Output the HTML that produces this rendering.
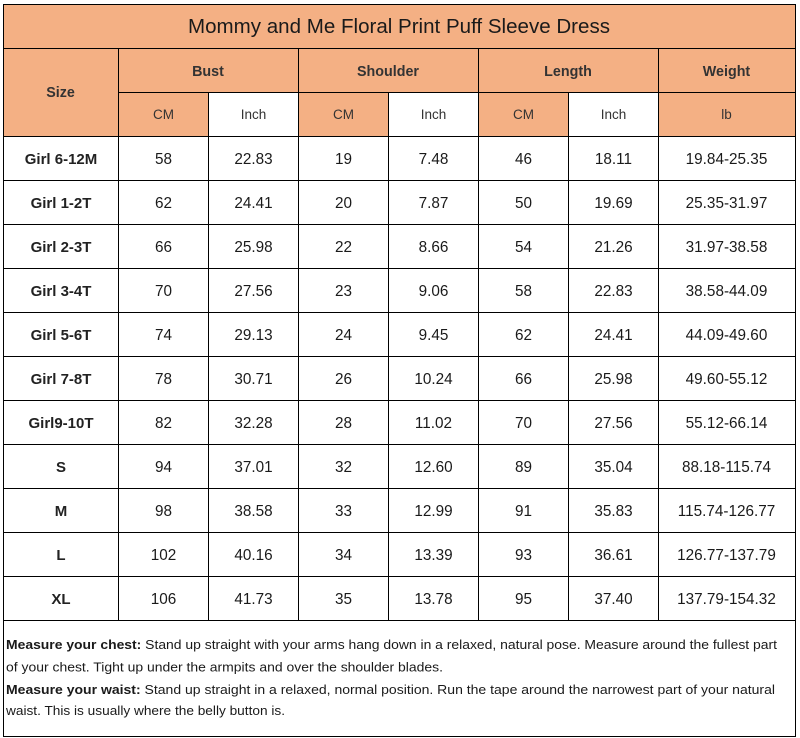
<!DOCTYPE html>
<html><head><meta charset="utf-8"><style>
html,body{margin:0;padding:0;background:#fff;}
svg{display:block;}
text{font-family:"Liberation Sans",sans-serif;}
</style></head><body>
<svg width="800" height="738" viewBox="0 0 800 738" xmlns="http://www.w3.org/2000/svg">
<rect x="0" y="0" width="800" height="738" fill="#fff"/>
<g fill="#F4B084">
<rect x="3" y="4" width="792" height="132"/>
</g>
<g fill="#fff">
<rect x="208" y="92" width="90" height="44"/>
<rect x="388" y="92" width="90" height="44"/>
<rect x="568" y="92" width="90" height="44"/>
</g>
<g stroke="#000" stroke-width="1" shape-rendering="crispEdges">
<line x1="3" y1="4.5" x2="796" y2="4.5"/>
<line x1="3" y1="48.5" x2="796" y2="48.5"/>
<line x1="118" y1="92.5" x2="796" y2="92.5"/>
<line x1="3" y1="136.5" x2="796" y2="136.5"/>
<line x1="3" y1="180.5" x2="796" y2="180.5"/>
<line x1="3" y1="224.5" x2="796" y2="224.5"/>
<line x1="3" y1="268.5" x2="796" y2="268.5"/>
<line x1="3" y1="312.5" x2="796" y2="312.5"/>
<line x1="3" y1="356.5" x2="796" y2="356.5"/>
<line x1="3" y1="400.5" x2="796" y2="400.5"/>
<line x1="3" y1="444.5" x2="796" y2="444.5"/>
<line x1="3" y1="488.5" x2="796" y2="488.5"/>
<line x1="3" y1="532.5" x2="796" y2="532.5"/>
<line x1="3" y1="576.5" x2="796" y2="576.5"/>
<line x1="3" y1="620.5" x2="796" y2="620.5"/>
<line x1="3" y1="736.5" x2="796" y2="736.5"/>
<line x1="3.5" y1="4" x2="3.5" y2="737"/>
<line x1="795.5" y1="4" x2="795.5" y2="737"/>
<line x1="118.5" y1="48" x2="118.5" y2="620"/>
<line x1="298.5" y1="48" x2="298.5" y2="620"/>
<line x1="478.5" y1="48" x2="478.5" y2="620"/>
<line x1="658.5" y1="48" x2="658.5" y2="620"/>
<line x1="208.5" y1="92" x2="208.5" y2="620"/>
<line x1="388.5" y1="92" x2="388.5" y2="620"/>
<line x1="568.5" y1="92" x2="568.5" y2="620"/>
</g>
<text x="399" y="33" font-size="20" fill="#1a1a1a" text-anchor="middle" textLength="422" lengthAdjust="spacingAndGlyphs">Mommy and Me Floral Print Puff Sleeve Dress</text>
<g font-size="14.3" font-weight="bold" fill="#333" text-anchor="middle">
<text x="60.5" y="97">Size</text>
<text x="208" y="76">Bust</text>
<text x="388" y="76">Shoulder</text>
<text x="568" y="76">Length</text>
<text x="726.5" y="76">Weight</text>
</g>
<g font-size="13.5" fill="#333" text-anchor="middle">
<text x="163.5" y="119">CM</text>
<text x="253.5" y="119">Inch</text>
<text x="343.5" y="119">CM</text>
<text x="433.5" y="119">Inch</text>
<text x="523.5" y="119">CM</text>
<text x="613.5" y="119">Inch</text>
<text x="726.5" y="119">lb</text>
</g>
<g font-size="15" fill="#1a1a1a" text-anchor="middle">
<g font-weight="bold" fill="#222">
<text x="61" y="164">Girl 6-12M</text>
<text x="61" y="208">Girl 1-2T</text>
<text x="61" y="252">Girl 2-3T</text>
<text x="61" y="296">Girl 3-4T</text>
<text x="61" y="340">Girl 5-6T</text>
<text x="61" y="384">Girl 7-8T</text>
<text x="61" y="428">Girl9-10T</text>
<text x="61" y="472">S</text>
<text x="61" y="516">M</text>
<text x="61" y="560">L</text>
<text x="61" y="604">XL</text>
</g>
<g font-size="15.3">
<text x="163.5" y="164">58</text><text x="253.5" y="164">22.83</text><text x="343.5" y="164">19</text><text x="433.5" y="164">7.48</text><text x="523.5" y="164">46</text><text x="613.5" y="164">18.11</text><text x="726.5" y="164">19.84-25.35</text>
<text x="163.5" y="208">62</text><text x="253.5" y="208">24.41</text><text x="343.5" y="208">20</text><text x="433.5" y="208">7.87</text><text x="523.5" y="208">50</text><text x="613.5" y="208">19.69</text><text x="726.5" y="208">25.35-31.97</text>
<text x="163.5" y="252">66</text><text x="253.5" y="252">25.98</text><text x="343.5" y="252">22</text><text x="433.5" y="252">8.66</text><text x="523.5" y="252">54</text><text x="613.5" y="252">21.26</text><text x="726.5" y="252">31.97-38.58</text>
<text x="163.5" y="296">70</text><text x="253.5" y="296">27.56</text><text x="343.5" y="296">23</text><text x="433.5" y="296">9.06</text><text x="523.5" y="296">58</text><text x="613.5" y="296">22.83</text><text x="726.5" y="296">38.58-44.09</text>
<text x="163.5" y="340">74</text><text x="253.5" y="340">29.13</text><text x="343.5" y="340">24</text><text x="433.5" y="340">9.45</text><text x="523.5" y="340">62</text><text x="613.5" y="340">24.41</text><text x="726.5" y="340">44.09-49.60</text>
<text x="163.5" y="384">78</text><text x="253.5" y="384">30.71</text><text x="343.5" y="384">26</text><text x="433.5" y="384">10.24</text><text x="523.5" y="384">66</text><text x="613.5" y="384">25.98</text><text x="726.5" y="384">49.60-55.12</text>
<text x="163.5" y="428">82</text><text x="253.5" y="428">32.28</text><text x="343.5" y="428">28</text><text x="433.5" y="428">11.02</text><text x="523.5" y="428">70</text><text x="613.5" y="428">27.56</text><text x="726.5" y="428">55.12-66.14</text>
<text x="163.5" y="472">94</text><text x="253.5" y="472">37.01</text><text x="343.5" y="472">32</text><text x="433.5" y="472">12.60</text><text x="523.5" y="472">89</text><text x="613.5" y="472">35.04</text><text x="726.5" y="472">88.18-115.74</text>
<text x="163.5" y="516">98</text><text x="253.5" y="516">38.58</text><text x="343.5" y="516">33</text><text x="433.5" y="516">12.99</text><text x="523.5" y="516">91</text><text x="613.5" y="516">35.83</text><text x="726.5" y="516">115.74-126.77</text>
<text x="163.5" y="560">102</text><text x="253.5" y="560">40.16</text><text x="343.5" y="560">34</text><text x="433.5" y="560">13.39</text><text x="523.5" y="560">93</text><text x="613.5" y="560">36.61</text><text x="726.5" y="560">126.77-137.79</text>
<text x="163.5" y="604">106</text><text x="253.5" y="604">41.73</text><text x="343.5" y="604">35</text><text x="433.5" y="604">13.78</text><text x="523.5" y="604">95</text><text x="613.5" y="604">37.40</text><text x="726.5" y="604">137.79-154.32</text>
</g>
</g>
<g font-size="13.2" fill="#1a1a1a">
<text x="6" y="649" textLength="771" lengthAdjust="spacingAndGlyphs"><tspan font-weight="bold">Measure your chest:</tspan> Stand up straight with your arms hang down in a relaxed, natural pose. Measure around the fullest part</text>
<text x="6" y="671.5" textLength="437" lengthAdjust="spacingAndGlyphs">of your chest. Tight up under the armpits and over the shoulder blades.</text>
<text x="6" y="694" textLength="769" lengthAdjust="spacingAndGlyphs"><tspan font-weight="bold">Measure your waist:</tspan> Stand up straight in a relaxed, normal position. Run the tape around the narrowest part of your natural</text>
<text x="6" y="715" textLength="279" lengthAdjust="spacingAndGlyphs">waist. This is usually where the belly button is.</text>
</g>
</svg>
</body></html>
